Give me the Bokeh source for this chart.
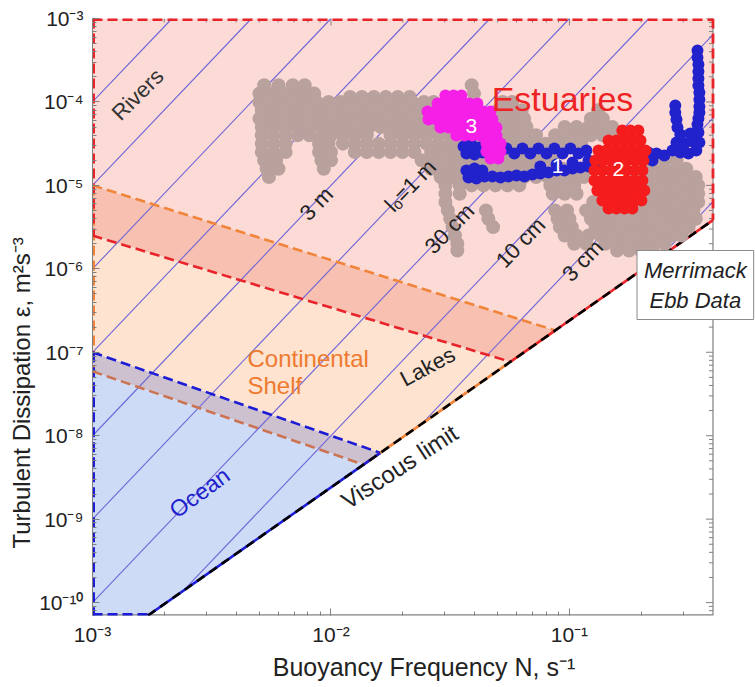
import math
from bokeh.plotting import figure
from bokeh.models import FixedTicker, CustomJSTickFormatter, Label, Title
from bokeh.embed import file_html
from bokeh.resources import INLINE

FONT = "Liberation Sans"

# ---------------- axes ----------------
N_MIN, N_MAX = 1e-3, 0.4          # data extent of the diagram
X_END = 0.603                      # frame reaches a little past the diagram (white strip for the legend box)
EPS_MIN, EPS_MAX = 7e-11, 1e-3
x_ticks = [1e-3, 1e-2, 1e-1]
y_ticks = [1e-10, 1e-9, 1e-8, 1e-7, 1e-6, 1e-5, 1e-4, 1e-3]
x_label = "Buoyancy Frequency N, s\u207b\u00b9"
y_label = "Turbulent Dissipation \u03b5, m\u00b2s\u207b\u00b3"

# ---------------- theory lines ----------------
VISC = 2.4e-5                      # viscous limit: eps = VISC * N^2
ozmidov_L = [316.0, 100.0, 31.6, 10.0, 3.16, 1.0, 0.316, 0.1, 0.0316, 0.01]   # m
ozmidov_text = ["3 m", "l\u2092=1 m", "30 cm", "10 cm", "3 cm"]
ozmidov_text_logN = [-2.061, -1.667, -1.503, -1.205, -0.945]
ozmidov_text_logE = [-5.217, -5.002, -5.517, -5.685, -5.901]

# regime boundaries: (eps at N = 1e-3, N where the line meets the viscous limit)
rivers_low = (2.5e-6, 0.0566)
shelf_high = (1.0e-5, 0.0873)
ocean_high = (1.0e-7, 0.0161)
shelf_low = (5.9e-8, 0.0137)

# ---------------- Merrimack ebb data (log10 N, log10 eps) ----------------
gray_row_logE = [-3.80, -3.90, -3.94, -4.00, -4.10, -4.20, -4.30, -4.40, -4.50, -4.60, -4.70,
                 -4.80, -4.90, -5.00, -5.10, -5.20, -5.30, -5.40, -5.50, -5.60, -5.70, -5.78]
gray_row_logN = [
    [-2.28, -2.22, -2.16, -2.11, -1.41],
    [-2.30, -2.25, -2.20, -2.15, -2.10, -2.07, -1.40],
    [-1.92, -1.87, -1.82, -1.77, -1.72, -1.67],
    [-2.30, -2.26, -2.21, -2.16, -2.11, -2.06, -2.01, -1.96, -1.91, -1.86, -1.81, -1.76, -1.71, -1.66, -1.61, -1.57, -1.28, -1.24],
    [-2.29, -2.24, -2.19, -2.14, -2.09, -2.04, -1.99, -1.94, -1.89, -1.84, -1.79, -1.74, -1.69, -1.64, -1.59, -1.55, -1.30, -1.25, -1.20, -0.88],
    [-2.30, -2.25, -2.20, -2.15, -2.10, -2.05, -2.00, -1.95, -1.90, -1.85, -1.80, -1.75, -1.70, -1.65, -1.60, -1.55, -1.29, -1.24, -1.19, -0.91, -0.86],
    [-2.29, -2.24, -2.19, -2.14, -2.09, -2.04, -1.99, -1.94, -1.89, -1.84, -1.79, -1.74, -1.69, -1.64, -1.59, -1.54, -1.28, -1.23, -1.18, -1.02, -0.97, -0.92, -0.87, -0.82],
    [-2.29, -2.24, -2.19, -2.14, -2.09, -2.04, -2.00, -1.95, -1.90, -1.85, -1.75, -1.70, -1.65, -1.60, -1.55, -1.50, -1.45, -1.29, -1.24, -1.19, -1.14, -1.06, -1.01, -0.96, -0.91, -0.86, -0.81, -0.76],
    [-2.29, -2.24, -2.19, -2.05, -2.01, -1.95, -1.90, -1.85, -1.80, -1.75, -1.70, -1.65, -1.60, -1.55, -1.50, -1.45, -1.40, -1.35, -1.30, -1.25, -1.20, -1.15, -1.10, -1.05, -1.00, -0.95],
    [-2.29, -2.24, -2.19, -2.05, -2.00, -1.90, -1.85, -1.80, -1.75, -1.70, -1.65, -1.58, -1.53, -1.48, -1.43, -1.38, -1.33, -1.28, -1.23, -1.18, -1.13, -1.08, -1.03],
    [-2.28, -2.23, -2.04, -2.00, -1.62, -1.57, -1.52, -1.47, -1.42, -1.37, -1.32, -1.27, -1.22, -1.17, -1.12, -1.07, -0.70, -0.65, -0.60, -0.55],
    [-2.27, -2.22, -2.03, -1.58, -1.53, -1.48, -1.43, -1.38, -1.33, -1.28, -1.23, -1.18, -1.13, -1.08, -1.03, -0.98, -0.93, -0.70, -0.65, -0.60, -0.55, -0.51],
    [-2.26, -1.54, -1.49, -1.44, -1.39, -1.34, -1.29, -1.24, -1.19, -1.14, -1.09, -1.04, -0.99, -0.94, -0.72, -0.67, -0.62, -0.57, -0.52, -0.47],
    [-1.52, -1.46, -1.41, -1.36, -1.31, -1.26, -1.21, -1.08, -1.03, -0.98, -0.70, -0.65, -0.60, -0.55, -0.50, -0.46],
    [-1.52, -1.46, -1.07, -1.02, -0.97, -0.86, -0.81, -0.76, -0.71, -0.66, -0.61, -0.56, -0.51, -0.46],
    [-1.52, -0.90, -0.85, -0.80, -0.75, -0.70, -0.65, -0.60, -0.55, -0.50, -0.46],
    [-1.51, -1.35, -1.06, -1.01, -0.93, -0.88, -0.83, -0.78, -0.73, -0.68, -0.63, -0.58, -0.53, -0.48],
    [-1.50, -1.34, -1.05, -1.00, -0.91, -0.86, -0.81, -0.76, -0.71, -0.66, -0.61, -0.56, -0.51, -0.47],
    [-1.49, -1.32, -1.04, -0.99, -0.89, -0.84, -0.79, -0.74, -0.69, -0.64, -0.59, -0.54, -0.50],
    [-1.48, -1.02, -0.97, -0.92, -0.87, -0.82, -0.77, -0.72, -0.67, -0.62, -0.57, -0.53],
    [-1.47, -0.98, -0.93, -0.85, -0.80, -0.75, -0.70, -0.65, -0.60],
    [-1.47, -0.80, -0.75, -0.70, -0.65],
]

blue_logN = [-1.444, -1.411, -1.377, -1.432, -1.398, -1.365,
             -1.331, -1.298, -1.264, -1.231, -1.197, -1.164, -1.130, -1.096, -1.063, -1.029, -0.996, -0.962, -0.929,
             -0.870, -0.803, -0.736,
             -0.669, -0.635, -0.602, -0.652,
             -0.568, -0.535, -0.501, -0.468, -0.551, -0.518, -0.484, -0.455, -0.535, -0.493, -0.459, -0.463, -0.459,
             -0.556, -0.556, -0.551, -0.547,
             -0.463, -0.463, -0.459, -0.459, -0.459, -0.459, -0.455, -0.455, -0.455, -0.455,
             -1.432, -1.398, -1.365, -1.423, -1.390, -1.356,
             -1.323, -1.289, -1.256, -1.222, -1.189, -1.155, -1.122, -1.088, -1.054, -1.021, -0.987, -0.954, -0.920,
             -1.122, -1.054, -0.987, -0.920]
blue_logE = [-4.534, -4.510, -4.546, -4.618, -4.630, -4.606,
             -4.558, -4.618, -4.558, -4.618, -4.558, -4.618, -4.558, -4.618, -4.558, -4.618, -4.558, -4.618, -4.582,
             -4.702, -4.678, -4.654,
             -4.606, -4.618, -4.642, -4.702,
             -4.582, -4.606, -4.618, -4.582, -4.486, -4.498, -4.474, -4.486, -4.390, -4.378, -4.366, -4.271, -4.199,
             -4.043, -4.127, -4.211, -4.307,
             -3.384, -3.467, -3.551, -3.635, -3.719, -3.803, -3.887, -3.971, -4.055, -4.127,
             -4.822, -4.798, -4.822, -4.906, -4.918, -4.894,
             -4.894, -4.906, -4.894, -4.882, -4.894, -4.870, -4.858, -4.846, -4.822, -4.822, -4.798, -4.786, -4.774,
             -4.774, -4.750, -4.726, -4.702]

red_row_logE = [-4.342, -4.462, -4.582, -4.702, -4.822, -4.942, -5.062, -5.181, -5.277]
red_row_logN = [
    [-0.778, -0.744, -0.711],
    [-0.836, -0.803, -0.769, -0.736, -0.702],
    [-0.878, -0.845, -0.811, -0.778, -0.744, -0.711, -0.681],
    [-0.891, -0.857, -0.824, -0.790, -0.757, -0.723, -0.690],
    [-0.895, -0.862, -0.828, -0.795, -0.761, -0.727, -0.694],
    [-0.895, -0.862, -0.828, -0.795, -0.761, -0.727, -0.694],
    [-0.883, -0.849, -0.815, -0.782, -0.748, -0.715, -0.686],
    [-0.862, -0.828, -0.795, -0.761, -0.727, -0.698],
    [-0.836, -0.803, -0.769, -0.736],
]

magenta_row_logE = [-3.923, -4.019, -4.115, -4.211, -4.307, -4.402, -4.498, -4.594, -4.678]
magenta_row_logN = [
    [-1.520, -1.486, -1.453],
    [-1.553, -1.520, -1.486, -1.453, -1.419, -1.386],
    [-1.595, -1.562, -1.528, -1.495, -1.461, -1.428, -1.394, -1.361, -1.331],
    [-1.591, -1.558, -1.524, -1.491, -1.457, -1.423, -1.390, -1.356, -1.323],
    [-1.541, -1.507, -1.474, -1.440, -1.407, -1.373, -1.340, -1.306],
    [-1.474, -1.440, -1.407, -1.373, -1.340, -1.306],
    [-1.348, -1.314, -1.289],
    [-1.348, -1.314, -1.289],
    [-1.331, -1.298],
]

# segment labels "1", "2", "3"
seg_text = ["1", "2", "3"]
seg_logN = [-1.050, -0.795, -1.411]
seg_logE = [-4.762, -4.798, -4.283]

# ---------------- colours ----------------
C_PINK, C_BAND, C_PEACH, C_GBAND, C_OCEAN = "#fcdbd6", "#f8c0b0", "#fde3d0", "#cdc0cf", "#cddbf6"
C_RED, C_ORANGE, C_BLUE, C_BROWN = "#e8232a", "#f0843a", "#1c1cd6", "#cc7352"
C_LO = "#6f66d8"
C_GRAY, C_DBLUE, C_DRED, C_MAG = "#b9a19e", "#2222cc", "#f41c1c", "#f51fe8"
C_AXIS = "#808080"

FRAME_W, FRAME_H = 663, 597


def flat(rows_e, rows_n):
    xs, ys = [], []
    for e, ns in zip(rows_e, rows_n):
        for n in ns:
            xs.append(10 ** n)
            ys.append(10 ** e)
    return xs, ys


def visc(n):
    return VISC * n * n


def lft(b):
    return (N_MIN, b[0])


def rgt(b):
    return (b[1], visc(b[1]))


p = figure(x_axis_type="log", y_axis_type="log",
           x_range=(N_MIN, X_END), y_range=(EPS_MIN, EPS_MAX),
           frame_width=FRAME_W, frame_height=FRAME_H,
           min_border_left=92, min_border_right=0, min_border_top=18, min_border_bottom=68,
           output_backend="svg", toolbar_location=None)
p.grid.visible = False
p.outline_line_color = None
p.background_fill_color = "white"

# ---- filled regimes ----
A, B, C = (N_MIN, EPS_MAX), (N_MAX, EPS_MAX), (N_MAX, visc(N_MAX))
Vb = (math.sqrt(EPS_MIN / VISC), EPS_MIN)
corner = (N_MIN, EPS_MIN)
polys = [
    [A, B, C, rgt(shelf_high), lft(shelf_high)],
    [lft(shelf_high), rgt(shelf_high), rgt(rivers_low), lft(rivers_low)],
    [lft(rivers_low), rgt(rivers_low), rgt(ocean_high), lft(ocean_high)],
    [lft(ocean_high), rgt(ocean_high), rgt(shelf_low), lft(shelf_low)],
    [lft(shelf_low), rgt(shelf_low), Vb, corner],
]
p.patches([[q[0] for q in pl] for pl in polys], [[q[1] for q in pl] for pl in polys],
          fill_color=[C_PINK, C_BAND, C_PEACH, C_GBAND, C_OCEAN], line_color=None)

# ---- box (right & bottom axis lines and inward ticks, MATLAB style) ----
dx_px = math.log10(X_END / N_MIN) / FRAME_W          # decades per pixel, x
dy_px = math.log10(EPS_MAX / EPS_MIN) / FRAME_H      # decades per pixel, y
minor_y = [m * 10.0 ** k for k in range(-11, -3) for m in range(2, 10) if EPS_MIN < m * 10.0 ** k < EPS_MAX]
minor_x = [m * 10.0 ** k for k in range(-3, 0) for m in range(2, 10) if m * 10.0 ** k < N_MAX]
p.line([N_MAX, N_MAX], [EPS_MIN, EPS_MAX], line_color=C_AXIS, line_width=1.2)
p.line([N_MIN, N_MAX], [EPS_MIN, EPS_MIN], line_color=C_AXIS, line_width=2.4)
p.segment(x0=[N_MAX] * len(y_ticks), y0=y_ticks, x1=[N_MAX * 10 ** (-7 * dx_px)] * len(y_ticks), y1=y_ticks,
          line_color=C_AXIS, line_width=1)
p.segment(x0=[N_MAX] * len(minor_y), y0=minor_y, x1=[N_MAX * 10 ** (-4 * dx_px)] * len(minor_y), y1=minor_y,
          line_color=C_AXIS, line_width=1)
p.segment(x0=x_ticks, y0=[EPS_MAX] * len(x_ticks), x1=x_ticks, y1=[EPS_MAX * 10 ** (-7 * dy_px)] * len(x_ticks),
          line_color=C_AXIS, line_width=1)
p.segment(x0=minor_x, y0=[EPS_MAX] * len(minor_x), x1=minor_x, y1=[EPS_MAX * 10 ** (-4 * dy_px)] * len(minor_x),
          line_color=C_AXIS, line_width=1)

# ---- Ozmidov scale lines eps = L^2 N^3 ----
lxs, lys = [], []
for L in ozmidov_L:
    n0 = max(N_MIN, VISC / L ** 2)
    n1 = min(N_MAX, (EPS_MAX / L ** 2) ** (1 / 3))
    if n1 > n0:
        lxs.append([n0, n1])
        lys.append([L ** 2 * n0 ** 3, L ** 2 * n1 ** 3])
p.multi_line(lxs, lys, line_color=C_LO, line_width=1.1)


def seg(p0, p1, color, width=2.6, dash="10 5"):
    p.line([p0[0], p1[0]], [p0[1], p1[1]], line_color=color, line_width=width, line_dash=dash)


# edges of the diagram
seg(lft(shelf_high), lft(shelf_low), C_ORANGE, 5)
seg(A, lft(rivers_low), C_RED, 5)
seg(A, B, C_RED, 5)
seg(B, C, C_RED, 2.8)
seg(lft(ocean_high), corner, C_BLUE, 5)
seg(corner, Vb, C_BLUE, 5)
# interior boundaries
seg(lft(shelf_high), rgt(shelf_high), C_ORANGE)
seg(lft(rivers_low), rgt(rivers_low), C_RED)
seg(lft(shelf_low), rgt(shelf_low), C_BROWN)
seg(lft(ocean_high), rgt(ocean_high), C_BLUE)
# viscous limit
seg(rgt(shelf_high), rgt(shelf_low), C_ORANGE, 2.6, "solid")
seg(C, rgt(rivers_low), C_RED, 2.6, "solid")
seg(rgt(ocean_high), Vb, C_BLUE, 2.6, "solid")
seg(Vb, C, "black", 2.6, "9 6")

# ---- data ----
gx, gy = flat(gray_row_logE, gray_row_logN)
p.scatter(gx, gy, size=14, fill_color=C_GRAY, line_color=None)
p.scatter([10 ** v for v in blue_logN], [10 ** v for v in blue_logE], size=12,
          fill_color=C_DBLUE, line_color=None)
rx, ry = flat(red_row_logE, red_row_logN)
p.scatter(rx, ry, size=12, fill_color=C_DRED, line_color=None)
mx, my = flat(magenta_row_logE, magenta_row_logN)
p.scatter(mx, my, size=12, fill_color=C_MAG, line_color=None)

# ---- axes ----
fmt_code = """
const e = Math.round(Math.log10(tick));
const m = {'-':'\u207b','0':'\u2070','1':'\u00b9','2':'\u00b2','3':'\u00b3','4':'\u2074',
           '5':'\u2075','6':'\u2076','7':'\u2077','8':'\u2078','9':'\u2079'};
return '10' + String(e).split('').map(c => m[c]).join('');
"""


def style_axis(ax, ticks, minor):
    ax.ticker = FixedTicker(ticks=ticks, minor_ticks=minor)
    ax.formatter = CustomJSTickFormatter(code=fmt_code)
    ax.major_tick_in = 7
    ax.major_tick_out = 0
    ax.minor_tick_in = 4
    ax.minor_tick_out = 0
    ax.major_tick_line_color = C_AXIS
    ax.minor_tick_line_color = C_AXIS
    ax.major_label_text_font = FONT
    ax.major_label_text_color = "#222222"
    ax.major_label_text_font_size = "21px"


style_axis(p.xaxis[0], x_ticks, minor_x)
style_axis(p.yaxis[0], y_ticks, minor_y)
p.xaxis[0].axis_line_color = None
p.yaxis[0].axis_line_color = C_AXIS
p.xaxis[0].major_label_standoff = 7
p.yaxis[0].major_label_standoff = 9
p.xaxis[0].axis_label = x_label
p.xaxis[0].axis_label_text_font = FONT
p.xaxis[0].axis_label_text_font_size = "25px"
p.xaxis[0].axis_label_text_font_style = "normal"
p.xaxis[0].axis_label_text_color = "#222222"
p.xaxis[0].axis_label_standoff = 4

# y axis title: starts above the bottom of the frame, as in the original figure
p.add_layout(Title(text=y_label, align="left", offset=67, standoff=4,
                   text_font=FONT, text_font_size="24px", text_font_style="normal",
                   text_color="#222222"), "left")


def lab(lx, ly, text, color="#262626", size="22px", angle=0.0, align="center", style="normal"):
    p.add_layout(Label(x=10 ** lx, y=10 ** ly, text=text, angle=angle, angle_units="deg",
                       text_align=align, text_baseline="middle", text_color=color,
                       text_font=FONT, text_font_size=size, text_font_style=style))


# regime labels
lab(-2.811, -3.911, "Rivers", "#333333", "22px", 45)
lab(-1.029, -3.959, "Estuaries", "#ee2424", "34px")
lab(-2.350, -7.075, "Continental", "#ee7a30", "24px", 0, "left")
lab(-2.350, -7.399, "Shelf", "#ee7a30", "24px", 0, "left")
lab(-1.595, -7.171, "Lakes", "#222222", "22px", 28)
lab(-1.713, -8.370, "Viscous limit", "#222222", "24px", 33)
lab(-2.551, -8.681, "Ocean", "#2020cc", "23px", 36)

for t, lx, ly in zip(ozmidov_text, ozmidov_text_logN, ozmidov_text_logE):
    lab(lx, ly, t, "#222222", "22px", 46)

for t, lx, ly in zip(seg_text, seg_logN, seg_logE):
    lab(lx, ly, t, "white", "21px")

p.add_layout(Label(x=10 ** -0.472, y=10 ** -6.194, text="Merrimack\nEbb Data",
                   text_align="center", text_baseline="middle", text_color="#222222",
                   text_font=FONT, text_font_size="22px", text_font_style="italic",
                   background_fill_color="white", border_line_color="#8a8a8a",
                   border_line_width=1, padding=7))

open("out.html", "w").write(file_html(p, INLINE))
